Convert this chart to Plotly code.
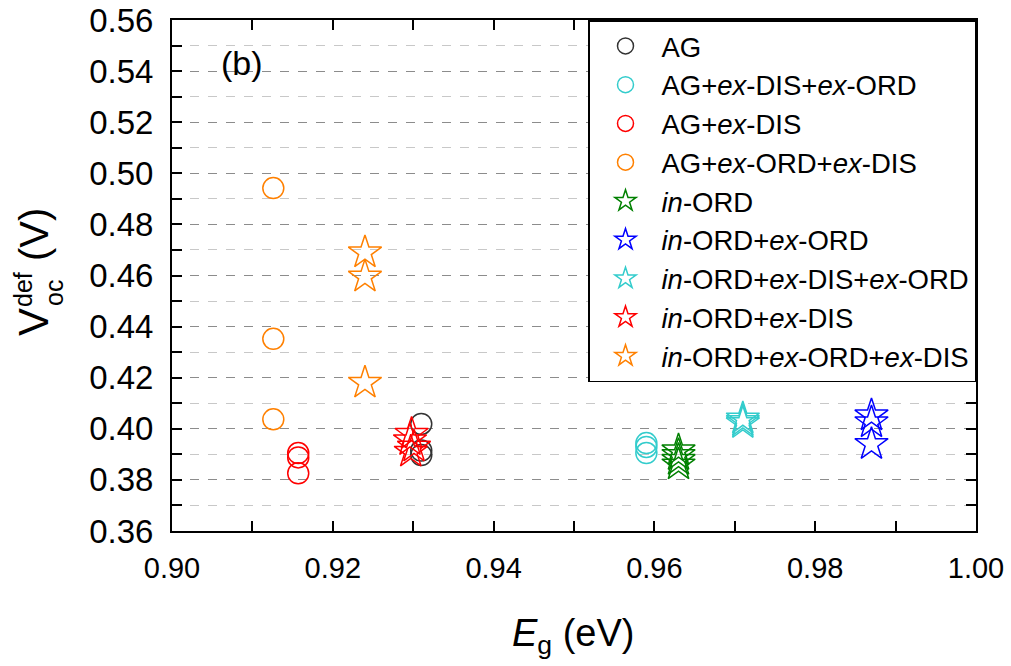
import plotly.graph_objects as go

# ---- data ----
ag_x = [0.931, 0.931, 0.931]
ag_y = [0.4019, 0.3915, 0.3897]

ag_exdis_exord_x = [0.959, 0.959, 0.959]
ag_exdis_exord_y = [0.3944, 0.3929, 0.3905]

ag_exdis_x = [0.9157, 0.9157, 0.9157]
ag_exdis_y = [0.3905, 0.3888, 0.3826]

ag_exord_exdis_x = [0.9126, 0.9126, 0.9126]
ag_exord_exdis_y = [0.4942, 0.4352, 0.4037]

inord_x = [0.963, 0.963, 0.963, 0.963]
inord_y = [0.3915, 0.3897, 0.3878, 0.3860]

inord_exord_x = [0.987, 0.987, 0.987]
inord_exord_y = [0.4052, 0.4025, 0.3940]

inord_exdis_exord_x = [0.971, 0.971, 0.971]
inord_exdis_exord_y = [0.4040, 0.4030, 0.4022]

inord_exdis_x = [0.9298, 0.9296, 0.9301, 0.9297]
inord_exdis_y = [0.3980, 0.3955, 0.3930, 0.3910]

inord_exord_exdis_x = [0.924, 0.924, 0.924]
inord_exord_exdis_y = [0.4690, 0.4595, 0.4180]

series = [
    ("AG", ag_x, ag_y, "circle-open", "#333333"),
    ("AG+<i>ex</i>-DIS+<i>ex</i>-ORD", ag_exdis_exord_x, ag_exdis_exord_y, "circle-open", "#33CCCC"),
    ("AG+<i>ex</i>-DIS", ag_exdis_x, ag_exdis_y, "circle-open", "#FF0000"),
    ("AG+<i>ex</i>-ORD+<i>ex</i>-DIS", ag_exord_exdis_x, ag_exord_exdis_y, "circle-open", "#FF8000"),
    ("<i>in</i>-ORD", inord_x, inord_y, "star-open", "#008000"),
    ("<i>in</i>-ORD+<i>ex</i>-ORD", inord_exord_x, inord_exord_y, "star-open", "#0000FF"),
    ("<i>in</i>-ORD+<i>ex</i>-DIS+<i>ex</i>-ORD", inord_exdis_exord_x, inord_exdis_exord_y, "star-open", "#33CCCC"),
    ("<i>in</i>-ORD+<i>ex</i>-DIS", inord_exdis_x, inord_exdis_y, "star-open", "#FF0000"),
    ("<i>in</i>-ORD+<i>ex</i>-ORD+<i>ex</i>-DIS", inord_exord_exdis_x, inord_exord_exdis_y, "star-open", "#FF8000"),
]

FONT = "Liberation Sans, Arial, sans-serif"

fig = go.Figure()
for name, xs, ys, sym, col in series:
    fig.add_trace(go.Scatter(
        x=xs, y=ys, mode="markers", name=name,
        marker=dict(symbol=sym, size=21 if sym.startswith("circle") else 25,
                    color=col, line=dict(color=col, width=1.5)),
    ))

L, R, T, B = 172, 35, 20, 135
W, H = 1011, 666
pw, ph = W - L - R, H - T - B

def px(x):
    return (x - L) / pw

def py(y):
    return (H - B - y) / ph

fig.update_layout(
    width=W, height=H,
    margin=dict(l=L, r=R, t=T, b=B, autoexpand=False),
    paper_bgcolor="white", plot_bgcolor="white",
    font=dict(family=FONT, color="black"),
    showlegend=True,
    legend=dict(
        x=1, y=1, xanchor="right", yanchor="top",
        bordercolor="black", borderwidth=1.5, bgcolor="white",
        font=dict(size=27.5, family=FONT),
        tracegroupgap=0, itemsizing="trace", itemwidth=62,
    ),
    xaxis=dict(
        range=[0.90, 1.00], dtick=0.02, tickformat=".2f", automargin=False,
        showline=True, linecolor="black", linewidth=2, mirror="allticks",
        ticks="inside", ticklen=10, tickwidth=1.5, tickcolor="black",
        minor=dict(dtick=0.01, ticks="inside", ticklen=10, tickwidth=1.5, tickcolor="black", showgrid=False),
        showgrid=False, zeroline=False,
        tickfont=dict(size=29, family=FONT),
        ticklabelstandoff=10,
    ),
    yaxis=dict(
        range=[0.36, 0.56], dtick=0.02, tickformat=".2f", automargin=False,
        showline=True, linecolor="black", linewidth=2, mirror="allticks",
        ticks="inside", ticklen=10, tickwidth=1.5, tickcolor="black",
        minor=dict(dtick=0.01, ticks="inside", ticklen=10, tickwidth=1.5, tickcolor="black",
                   showgrid=True, gridcolor="#C8C8C8", griddash="dash", gridwidth=1),
        showgrid=True, gridcolor="#8C8C8C", griddash="dash", gridwidth=1,
        zeroline=False,
        tickfont=dict(size=33, family=FONT),
        ticklabelstandoff=10,
    ),
)

annotations = [
    # panel label
    dict(x=px(242), y=py(63), text="(b)", font=dict(size=34, family=FONT)),
    # x axis title
    dict(x=px(573), y=py(636), text="<i>E</i><sub>g</sub> (eV)", font=dict(size=38, family=FONT)),
    # y axis title pieces (rotated)
    dict(x=px(33), y=py(322), text="V", textangle=-90, font=dict(size=42, family=FONT)),
    dict(x=px(23), y=py(290), text="def", textangle=-90, font=dict(size=25, family=FONT)),
    dict(x=px(54), y=py(293), text="oc", textangle=-90, font=dict(size=25, family=FONT)),
    dict(x=px(34), y=py(235), text="(V)", textangle=-90, font=dict(size=40, family=FONT)),
]
for a in annotations:
    a.update(xref="paper", yref="paper", showarrow=False, xanchor="center", yanchor="middle")
fig.update_layout(annotations=annotations)

fig.write_html("out.html")
